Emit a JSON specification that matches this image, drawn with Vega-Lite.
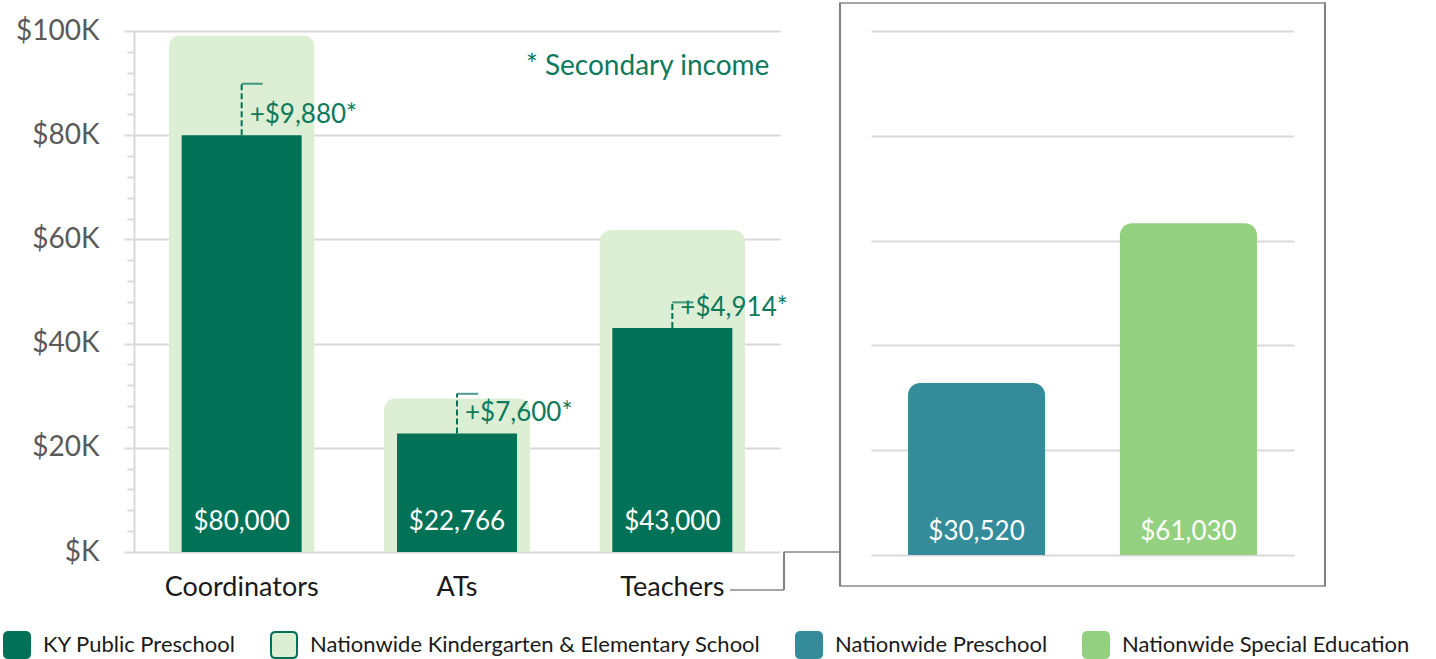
{
  "$schema": "https://vega.github.io/schema/vega-lite/v6.json",
  "background": "white",
  "padding": {"left": 3, "top": 2, "right": 5, "bottom": 5},
  "autosize": {"type": "pad"},
  "bounds": "flush",
  "spacing": 91,
  "config": {
    "font": "Lato",
    "view": {"stroke": null},
    "legend": {"orient": "none", "direction": "horizontal", "legendX": -131, "legendY": 600,
               "symbolType": "M-1,-0.65Q-1,-1,-0.65,-1L0.65,-1Q1,-1,1,-0.65L1,0.65Q1,1,0.65,1L-0.65,1Q-1,1,-1,0.65Z",
               "symbolSize": 676, "symbolStrokeWidth": 2, "labelFontSize": 22, "labelColor": "#1a1a1a",
               "labelFont": "Lato", "labelLimit": 0, "columnPadding": 31, "labelOffset": 12}
  },
  "resolve": {"scale": {"color": "shared", "stroke": "shared"}},
  "hconcat": [
    {
      "width": 646,
      "height": 521,
      "data": {"values": [
        {"role": "Coordinators", "ky": 80000, "ky_label": "$80,000", "secondary": "+$9,880*", "ky_with_secondary": 89880, "nationwide": 99200},
        {"role": "ATs", "ky": 22766, "ky_label": "$22,766", "secondary": "+$7,600*", "ky_with_secondary": 30366, "nationwide": 29500},
        {"role": "Teachers", "ky": 43000, "ky_label": "$43,000", "secondary": "+$4,914*", "ky_with_secondary": 47914, "nationwide": 61800}
      ]},
      "resolve": {"axis": {"y": "independent"}},
      "layer": [
        {
          "mark": {"type": "bar", "width": 146, "cornerRadiusTopLeft": 12, "cornerRadiusTopRight": 12, "strokeWidth": 0},
          "encoding": {
            "x": {"field": "role", "type": "nominal", "sort": null,
                  "scale": {"paddingInner": 0, "paddingOuter": 0},
                  "axis": {"title": null, "labelAngle": 0, "ticks": false, "domain": false, "labelFontSize": 27, "labelColor": "#1a1a1a", "labelPadding": 22, "labelFont": "Lato"}},
            "y": {"field": "nationwide", "type": "quantitative",
                  "scale": {"domain": [0, 100000], "nice": false, "zero": true},
                  "axis": {"title": null, "values": [0, 20000, 40000, 60000, 80000, 100000],
                           "labelExpr": "'$' + (datum.value === 0 ? '' : format(datum.value / 1000, 'd')) + 'K'",
                           "grid": true, "gridColor": "#D9D9D9", "gridWidth": 2,
                           "tickSize": 10, "tickColor": "#D9D9D9", "tickWidth": 2,
                           "domainColor": "#D9D9D9", "domainWidth": 2,
                           "labelFontSize": 28, "labelColor": "#595959", "labelPadding": 25, "labelFont": "Lato"}},
            "color": {"datum": "Nationwide Kindergarten & Elementary School", "type": "nominal",
                      "scale": {"domain": ["KY Public Preschool", "Nationwide Kindergarten & Elementary School", "Nationwide Preschool", "Nationwide Special Education"],
                                "range": ["#027257", "#DCEFD5", "#348B99", "#93D07F"]},
                      "legend": {"title": null}}
          }
        },
        {
          "mark": {"type": "bar", "width": 120, "strokeWidth": 0},
          "encoding": {
            "x": {"field": "role", "type": "nominal", "sort": null},
            "y": {"field": "ky", "type": "quantitative",
                  "axis": {"orient": "left", "title": null, "values": [4000, 8000, 12000, 16000, 24000, 28000, 32000, 36000, 44000, 48000, 52000, 56000, 64000, 68000, 72000, 76000, 84000, 88000, 92000, 96000],
                           "labels": false, "grid": false, "domain": false, "tickSize": 7, "tickColor": "#D9D9D9", "tickWidth": 2}},
            "color": {"datum": "KY Public Preschool", "type": "nominal"},
            "stroke": {"datum": "KY Public Preschool", "type": "nominal",
                       "scale": {"domain": ["KY Public Preschool", "Nationwide Kindergarten & Elementary School", "Nationwide Preschool", "Nationwide Special Education"],
                                 "range": ["#027257", "#027257", "#348B99", "#93D07F"]},
                       "legend": {"title": null}}
          }
        },
        {
          "mark": {"type": "rule", "color": "#027257", "strokeWidth": 2, "strokeDash": [6, 3]},
          "encoding": {
            "x": {"field": "role", "type": "nominal", "sort": null},
            "y": {"field": "ky", "type": "quantitative", "axis": null},
            "y2": {"field": "ky_with_secondary"}
          }
        },
        {
          "mark": {"type": "tick", "color": "#027257", "size": 21, "thickness": 2, "xOffset": 10.5, "orient": "horizontal"},
          "encoding": {
            "x": {"field": "role", "type": "nominal", "sort": null},
            "y": {"field": "ky_with_secondary", "type": "quantitative", "axis": null}
          }
        },
        {
          "mark": {"type": "text", "color": "#0E7A5C", "fontSize": 26, "align": "left", "baseline": "middle", "dx": 8, "dy": -20},
          "encoding": {
            "x": {"field": "role", "type": "nominal", "sort": null},
            "y": {"field": "ky", "type": "quantitative", "axis": null},
            "text": {"field": "secondary"}
          }
        },
        {
          "mark": {"type": "text", "color": "white", "fontSize": 26, "align": "center", "baseline": "middle", "dy": -30},
          "encoding": {
            "x": {"field": "role", "type": "nominal", "sort": null},
            "y": {"datum": 0, "type": "quantitative", "axis": null},
            "text": {"field": "ky_label"}
          }
        },
        {
          "data": {"values": [{"note": "* Secondary income"}]},
          "mark": {"type": "text", "color": "#0E7A5C", "fontSize": 28, "align": "right", "baseline": "middle", "xOffset": 97},
          "encoding": {
            "x": {"datum": "Teachers", "type": "nominal"},
            "y": {"datum": 93100, "type": "quantitative", "axis": null},
            "text": {"field": "note"}
          }
        },
        {
          "data": {"values": [{"level": -7300}]},
          "mark": {"type": "tick", "color": "#808080", "thickness": 2, "size": 54, "orient": "horizontal", "xOffset": 300},
          "encoding": {"y": {"field": "level", "type": "quantitative", "axis": null}}
        },
        {
          "data": {"values": [{"level": -7300, "base": 0}]},
          "mark": {"type": "rule", "color": "#808080", "strokeWidth": 2, "xOffset": 327},
          "encoding": {"y": {"field": "level", "type": "quantitative", "axis": null}, "y2": {"field": "base"}}
        },
        {
          "data": {"values": [{"level": 0}]},
          "mark": {"type": "tick", "color": "#808080", "thickness": 2, "size": 57, "orient": "horizontal", "xOffset": 355},
          "encoding": {"y": {"field": "level", "type": "quantitative", "axis": null}}
        }
      ]
    },
    {
      "width": 423,
      "height": 524,
      "data": {"values": [
        {"group": "Nationwide Preschool", "salary": 30520, "label": "$30,520"},
        {"group": "Nationwide Special Education", "salary": 61030, "label": "$61,030"}
      ]},
      "resolve": {"axis": {"y": "independent"}},
      "layer": [
        {
          "mark": {"type": "bar", "width": 137, "cornerRadiusTopLeft": 12, "cornerRadiusTopRight": 12, "yOffset": -12, "strokeWidth": 0},
          "encoding": {
            "x": {"field": "group", "type": "nominal", "sort": null,
                  "scale": {"paddingInner": 0.354, "paddingOuter": 0.175}, "axis": null},
            "y": {"field": "salary", "type": "quantitative", "stack": null,
                  "scale": {"domain": [0, 100000], "nice": false, "zero": true},
                  "axis": {"title": null, "values": [0, 20000, 40000, 60000, 80000, 100000], "labels": false, "ticks": false, "domain": false,
                           "grid": true, "gridColor": "#D9D9D9", "gridWidth": 2}},
            "y2": {"datum": 0},
            "color": {"field": "group", "type": "nominal", "legend": {"title": null}}
          }
        },
        {
          "mark": {"type": "text", "color": "white", "fontSize": 26, "align": "center", "baseline": "middle", "dy": -23},
          "encoding": {
            "x": {"field": "group", "type": "nominal", "sort": null},
            "y": {"datum": 0, "type": "quantitative", "axis": null},
            "text": {"field": "label"}
          }
        },
        {
          "data": {"values": [{"edge": 105340}, {"edge": -5920}]},
          "mark": {"type": "tick", "color": "#808080", "thickness": 2, "size": 487, "orient": "horizontal"},
          "encoding": {
            "y": {"field": "edge", "type": "quantitative", "axis": null}
          }
        },
        {
          "data": {"values": [{"top": 105340, "bottom": -5920}]},
          "mark": {"type": "rule", "color": "#808080", "strokeWidth": 2, "xOffset": -242.5},
          "encoding": {
            "y": {"field": "top", "type": "quantitative", "axis": null},
            "y2": {"field": "bottom"}
          }
        },
        {
          "data": {"values": [{"top": 105340, "bottom": -5920}]},
          "mark": {"type": "rule", "color": "#808080", "strokeWidth": 2, "xOffset": 242.5},
          "encoding": {
            "y": {"field": "top", "type": "quantitative", "axis": null},
            "y2": {"field": "bottom"}
          }
        }
      ]
    }
  ]
}
